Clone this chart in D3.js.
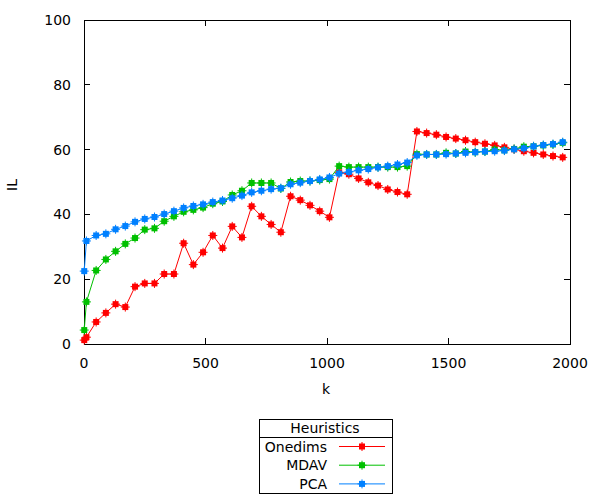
<!DOCTYPE html>
<html>
<head>
<meta charset="utf-8">
<script src="https://cdn.jsdelivr.net/npm/d3@7"></script>
<style>
  html, body { margin: 0; padding: 0; background: #fff; }
  text { font-family: "DejaVu Sans", sans-serif; font-size: 14px; fill: #000; }
</style>
</head>
<body>
<svg id="chart" width="600" height="500"></svg>
<script>
const kValues = [1, 10, 50, 90, 130, 170, 210, 250, 290, 330, 370, 410, 450, 490, 530, 570, 610, 650, 690, 730, 770,
  810, 850, 890, 930, 970, 1010, 1050, 1090, 1130, 1170, 1210, 1250, 1290, 1330, 1370, 1410, 1450, 1490, 1530,
  1570, 1610, 1650, 1690, 1730, 1770, 1810, 1850, 1890, 1930, 1970];

const onedims = [1.2, 2.1, 6.8, 9.6, 12.3, 11.4, 17.7, 18.7, 18.7, 21.6, 21.6, 31.1, 24.5, 28.3, 33.5, 29.6, 36.3,
  32.9, 42.5, 39.4, 36.9, 34.5, 45.6, 44.4, 42.8, 41.0, 39.1, 53.0, 52.4, 51.1, 49.9, 48.9, 47.7, 46.9, 46.2,
  65.6, 65.1, 64.6, 63.9, 63.4, 62.9, 62.3, 61.8, 61.3, 60.7, 60.1, 59.5, 59.0, 58.5, 58.0, 57.6];

const mdav = [4.3, 13.0, 22.7, 26.1, 28.6, 30.9, 32.7, 35.3, 35.7, 37.9, 39.4, 40.8, 41.4, 42.1, 43.3, 44.0, 46.0,
  47.3, 49.7, 49.7, 49.7, 48.0, 50.0, 50.3, 50.3, 50.6, 50.9, 54.9, 54.6, 54.6, 54.6, 54.6, 54.6, 54.6, 54.9,
  58.6, 58.5, 58.5, 59.0, 58.8, 59.4, 59.2, 59.4, 60.0, 59.8, 60.2, 60.9, 61.0, 61.3, 61.6, 62.1];

const pca = [22.5, 31.8, 33.5, 34.0, 35.4, 36.4, 37.7, 38.6, 39.2, 40.1, 41.0, 42.0, 42.6, 43.1, 43.8, 44.3, 45.0,
  45.8, 46.8, 47.3, 47.8, 48.1, 49.3, 49.8, 50.3, 50.8, 51.4, 52.6, 53.1, 53.6, 54.0, 54.5, 54.9, 55.4, 56.0,
  58.2, 58.5, 58.5, 58.6, 58.8, 59.0, 59.2, 59.4, 59.5, 59.7, 60.1, 60.4, 61.0, 61.4, 61.7, 62.3];

const seriesNames = ["Onedims", "MDAV", "PCA"];
const seriesColors = ["#ff0000", "#00c000", "#0080ff"];
const seriesValues = [onedims, mdav, pca];
const xTicks = [0, 500, 1000, 1500, 2000];
const yTicks = [0, 20, 40, 60, 80, 100];
const legendTitle = "Heuristics";
const xLabel = "k";
const yLabel = "IL";

const svg = d3.select("#chart");
const L = 84, R = 570, T = 20, B = 344;

const x = d3.scaleLinear().domain([0, 2000]).range([L, R]);
const y = d3.scaleLinear().domain([0, 100]).range([B, T]);

// ticks (inward, mirrored)
const tickLen = 6;
const axisG = svg.append("g");
xTicks.forEach(t => {
  axisG.append("line").attr("x1", x(t)).attr("x2", x(t)).attr("y1", B).attr("y2", B - tickLen)
    .attr("stroke", "#000").attr("shape-rendering", "crispEdges");
  axisG.append("line").attr("x1", x(t)).attr("x2", x(t)).attr("y1", T).attr("y2", T + tickLen)
    .attr("stroke", "#000").attr("shape-rendering", "crispEdges");
  axisG.append("text").attr("x", x(t)).attr("y", B + 24).attr("text-anchor", "middle").text(t);
});
yTicks.forEach(t => {
  axisG.append("line").attr("x1", L).attr("x2", L + tickLen).attr("y1", y(t)).attr("y2", y(t))
    .attr("stroke", "#000").attr("shape-rendering", "crispEdges");
  axisG.append("line").attr("x1", R).attr("x2", R - tickLen).attr("y1", y(t)).attr("y2", y(t))
    .attr("stroke", "#000").attr("shape-rendering", "crispEdges");
  axisG.append("text").attr("x", L - 13).attr("y", y(t) + 5).attr("text-anchor", "end").text(t);
});

// border
svg.append("rect").attr("x", L).attr("y", T).attr("width", R - L).attr("height", B - T)
  .attr("fill", "none").attr("stroke", "#000").attr("shape-rendering", "crispEdges");

// axis labels
svg.append("text").attr("x", 326).attr("y", 394).attr("text-anchor", "middle").text(xLabel);
svg.append("text").attr("transform", "translate(17,185) rotate(-90)").attr("text-anchor", "middle").text(yLabel);

function marker(g, cx, cy, color) {
  g.append("rect").attr("x", cx - 3).attr("y", cy - 3).attr("width", 6).attr("height", 6).attr("fill", color);
  g.append("path").attr("d", `M${cx - 4.5},${cy}H${cx + 4.5}M${cx},${cy - 4.5}V${cy + 4.5}`)
    .attr("stroke", color).attr("stroke-width", 1);
}

const line = d3.line().x(d => x(d[0])).y(d => y(d[1]));
seriesValues.forEach((vals, i) => {
  const pts = kValues.map((k, j) => [k, vals[j]]);
  const g = svg.append("g");
  g.append("path").datum(pts).attr("d", line).attr("fill", "none")
    .attr("stroke", seriesColors[i]).attr("stroke-width", 1);
  pts.forEach(p => marker(g, x(p[0]), y(p[1]), seriesColors[i]));
});

// legend
const lg = svg.append("g");
lg.append("rect").attr("x", 259.5).attr("y", 419.5).attr("width", 133).attr("height", 74)
  .attr("fill", "#fff").attr("stroke", "#000");
lg.append("line").attr("x1", 259.5).attr("x2", 392.5).attr("y1", 437.5).attr("y2", 437.5).attr("stroke", "#000");
lg.append("text").attr("x", 325).attr("y", 433).attr("text-anchor", "middle").text(legendTitle);
seriesNames.forEach((name, i) => {
  const yy = 446.5 + i * 18.7;
  lg.append("text").attr("x", 327).attr("y", yy + 5).attr("text-anchor", "end").text(name);
  lg.append("line").attr("x1", 339).attr("x2", 385).attr("y1", yy).attr("y2", yy)
    .attr("stroke", seriesColors[i]).attr("stroke-width", 1);
  marker(lg, 362, yy, seriesColors[i]);
});
</script>
</body>
</html>
